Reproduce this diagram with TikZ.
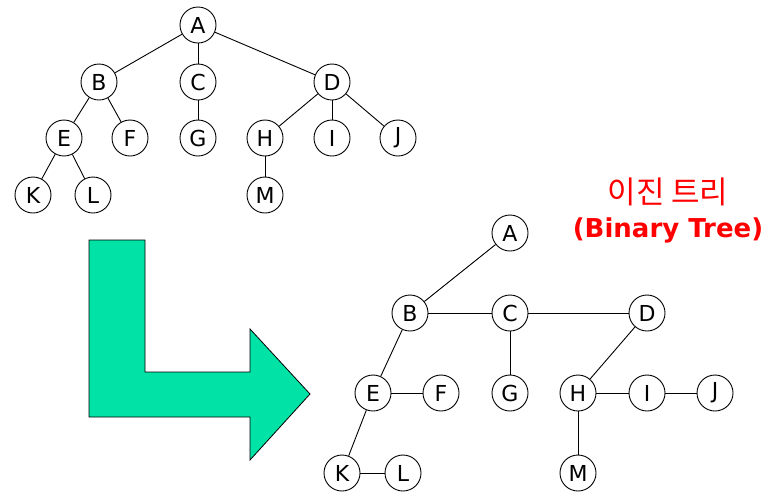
\documentclass[tikz,border=0pt]{standalone}
\usepackage{fontspec}
\setmainfont{DejaVu Sans}
\newfontfamily\krfont{Noto Sans CJK KR}
\definecolor{arrowgreen}{RGB}{0,226,166}

\begin{document}
\begin{tikzpicture}[x=1pt,y=-1pt]
       \tikzstyle{vertex} = [circle, draw, line width=0.9pt, minimum size=36pt, inner sep=0pt, font=\fontsize{22}{22}\selectfont];
       \tikzstyle{edge} = [line width=0.9pt];

       \useasboundingbox (0,0) rectangle (779,499);

       % general tree
       \node[vertex] (tA) at (198,25)  {A};
       \node[vertex] (tB) at (99,82)   {B};
       \node[vertex] (tC) at (198,82)  {C};
       \node[vertex] (tD) at (332,82)  {D};
       \node[vertex] (tE) at (64,138)  {E};
       \node[vertex] (tF) at (130,138) {F};
       \node[vertex] (tG) at (198,138) {G};
       \node[vertex] (tH) at (265,138) {H};
       \node[vertex] (tI) at (332,138) {I};
       \node[vertex] (tJ) at (398,138) {J};
       \node[vertex] (tK) at (33,195)  {K};
       \node[vertex] (tL) at (93,195)  {L};
       \node[vertex] (tM) at (265,195) {M};

       \draw[edge] (tA) -- (tB);
       \draw[edge] (tA) -- (tC);
       \draw[edge] (tA) -- (tD);
       \draw[edge] (tB) -- (tE);
       \draw[edge] (tB) -- (tF);
       \draw[edge] (tC) -- (tG);
       \draw[edge] (tD) -- (tH);
       \draw[edge] (tD) -- (tI);
       \draw[edge] (tD) -- (tJ);
       \draw[edge] (tE) -- (tK);
       \draw[edge] (tE) -- (tL);
       \draw[edge] (tH) -- (tM);

       % bent arrow
       \draw[line width=0.8pt, fill=arrowgreen]
         (89,240) -- (145,240) -- (145,372) -- (250,372) -- (250,329)
         -- (310,394) -- (250,460) -- (250,417) -- (89,417) -- cycle;

       % title
       \node[text=red, font=\krfont\fontsize{31}{31}\selectfont] (krtitle) at (668,192) {이진 트리};
       \node[text=red, font=\bfseries\fontsize{26}{26}\selectfont] (entitle) at (668,230) {(Binary Tree)};

       % binary tree
       \node[vertex] (bA) at (510,233) {A};
       \node[vertex] (bB) at (410,313) {B};
       \node[vertex] (bC) at (510,313) {C};
       \node[vertex] (bD) at (647,313) {D};
       \node[vertex] (bE) at (373,393) {E};
       \node[vertex] (bF) at (441,393) {F};
       \node[vertex] (bG) at (510,393) {G};
       \node[vertex] (bH) at (578,393) {H};
       \node[vertex] (bI) at (647,393) {I};
       \node[vertex] (bJ) at (715,393) {J};
       \node[vertex] (bK) at (342,473) {K};
       \node[vertex] (bL) at (403,473) {L};
       \node[vertex] (bM) at (578,473) {M};

       \draw[edge] (bA) -- (bB);
       \draw[edge] (bB) -- (bC);
       \draw[edge] (bC) -- (bD);
       \draw[edge] (bB) -- (bE);
       \draw[edge] (bC) -- (bG);
       \draw[edge] (bD) -- (bH);
       \draw[edge] (bE) -- (bF);
       \draw[edge] (bE) -- (bK);
       \draw[edge] (bK) -- (bL);
       \draw[edge] (bH) -- (bI);
       \draw[edge] (bI) -- (bJ);
       \draw[edge] (bH) -- (bM);
\end{tikzpicture}
\end{document}
